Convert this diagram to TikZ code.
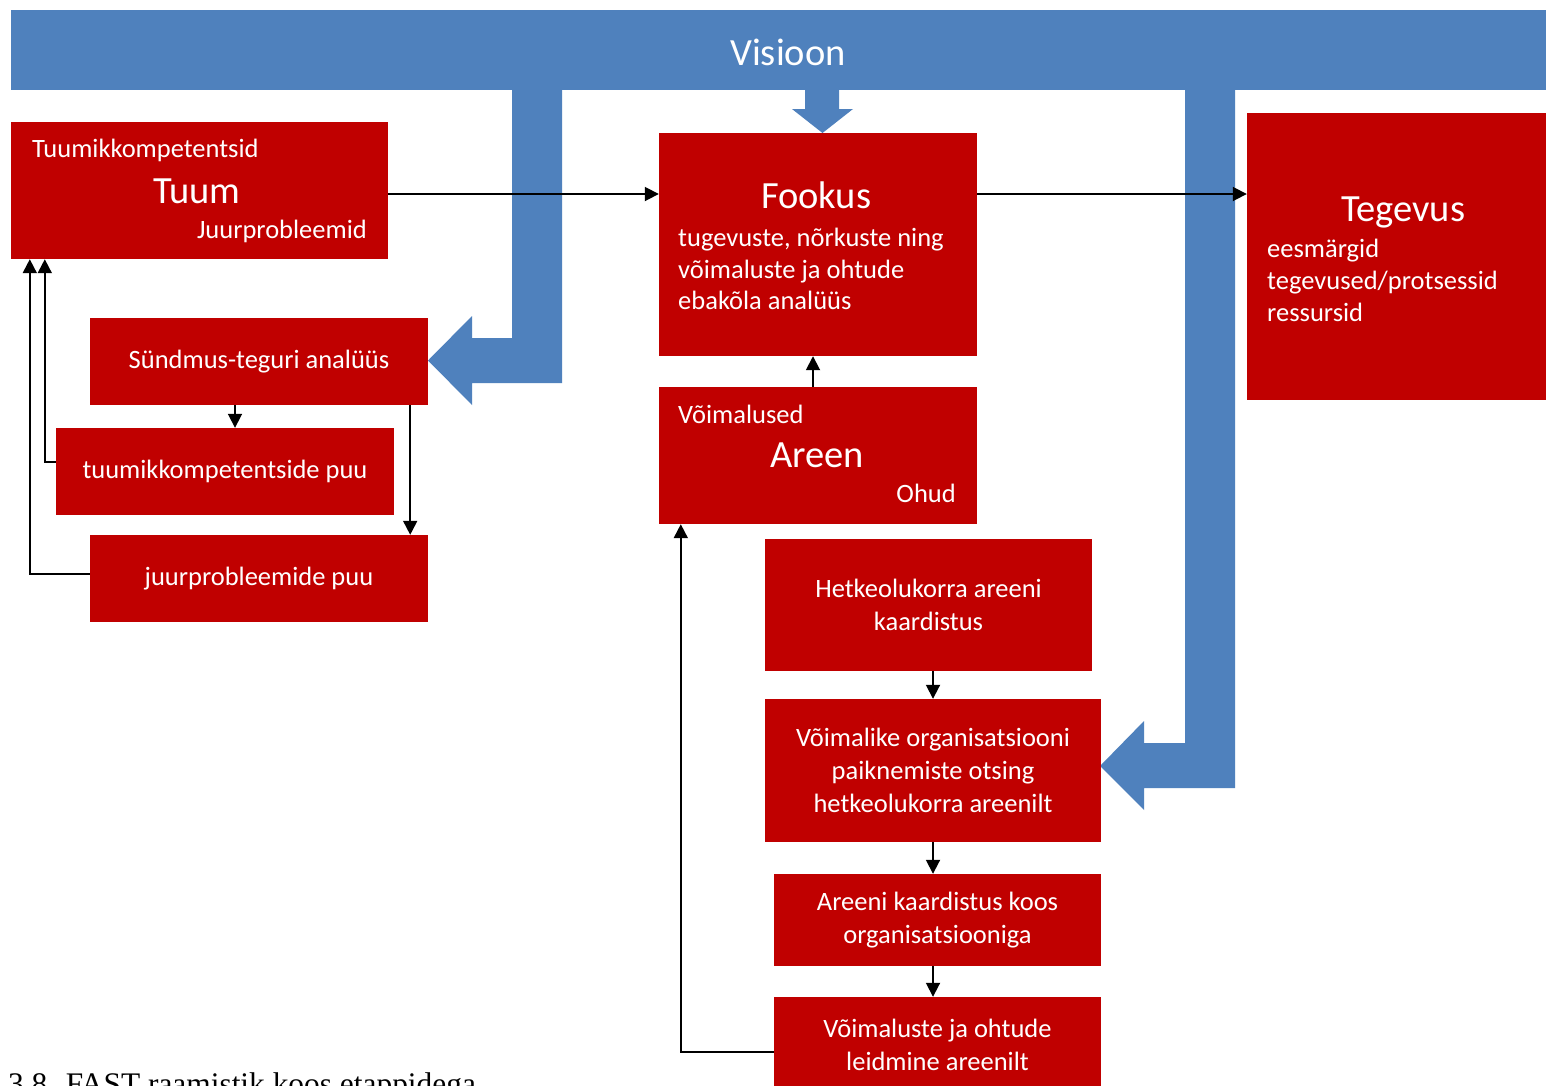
\documentclass[tikz,border=0pt]{standalone}
\usepackage{fontspec}
\setmainfont{Carlito}
\newfontfamily\capfont{Liberation Serif}
\usetikzlibrary{arrows.meta,calc}

\definecolor{boxred}{HTML}{C00000}
\definecolor{bandblue}{HTML}{4F81BD}

\tikzset{
  redbox/.style={fill=boxred, draw=none, inner sep=0pt, text=white,
                 align=center, font=\fontsize{26.5}{33}\selectfont},
  bodytxt/.style={text=white, inner sep=0pt, anchor=base west,
                  font=\fontsize{26.5}{33}\selectfont},
  titletxt/.style={text=white, inner sep=0pt, anchor=base west,
                   font=\fontsize{38.5}{46}\selectfont},
  conn/.style={draw=black, line width=1.8pt,
               -{Triangle[length=14pt,width=14pt]}},
  blockarrow/.style={fill=bandblue, draw=none}
}

\begin{document}
\begin{tikzpicture}[x=1pt,y=-1pt]
  \clip (0,0) rectangle (1546,1085);
  \fill[white] (0,0) rectangle (1546,1085);

  % vision band and its block arrows
  \fill[blockarrow] (11,10) rectangle (1546,90);
  \node[text=white, inner sep=0pt, font=\fontsize{38.5}{46}\selectfont]
    (visioon) at (788,52) {Visioon};
  \fill[blockarrow] (512,89) -- (562,89) -- (562,383) -- (472,383) -- (472,405)
    -- (428,360.5) -- (472,316) -- (472,338) -- (512,338) -- cycle;
  \fill[blockarrow] (805,89) -- (839,89) -- (839,109) -- (853,109)
    -- (822.5,133) -- (792,109) -- (805,109) -- cycle;
  \fill[blockarrow] (1185,89) -- (1235,89) -- (1235,788) -- (1144,788) -- (1144,810)
    -- (1100,766) -- (1144,721) -- (1144,743) -- (1185,743) -- cycle;

  % main boxes
  \node[redbox, minimum width=377pt, minimum height=137pt] (tuum) at (199.5,190.5) {};
  \node[bodytxt] (tuumkomp) at (32,157) {Tuumikkompetentsid};
  \node[titletxt] (tuumtitle) at (153,203) {Tuum};
  \node[bodytxt, anchor=base east] (juurprob) at (367,238) {Juurprobleemid};

  \node[redbox, minimum width=318pt, minimum height=223pt] (fookus) at (818,244.5) {};
  \node[titletxt] (fookustitle) at (761,208) {Fookus};
  \node[bodytxt] (fl1) at (678,246) {tugevuste, nõrkuste ning};
  \node[bodytxt] (fl2) at (678,278) {võimaluste ja ohtude};
  \node[bodytxt] (fl3) at (678,309) {ebakõla analüüs};

  \node[redbox, minimum width=299pt, minimum height=287pt] (tegevus) at (1396.5,256.5) {};
  \node[titletxt] (tegevustitle) at (1341,221) {Tegevus};
  \node[bodytxt] (tl1) at (1267,257) {eesmärgid};
  \node[bodytxt] (tl2) at (1267,289) {tegevused/protsessid};
  \node[bodytxt] (tl3) at (1267,321) {ressursid};

  \node[redbox, minimum width=318pt, minimum height=137pt] (areen) at (818,455.5) {};
  \node[bodytxt] (voimalused) at (678,423) {Võimalused};
  \node[titletxt] (areentitle) at (770,467) {Areen};
  \node[bodytxt, anchor=base east] (ohud) at (956,502) {Ohud};

  % core analysis boxes
  \node[redbox, minimum width=338pt, minimum height=87pt] (sundmus) at (259,361.5) {Sündmus-teguri analüüs};
  \node[redbox, minimum width=338pt, minimum height=87pt] (tuumikk) at (225,471.5) {tuumikkompetentside puu};
  \node[redbox, minimum width=338pt, minimum height=87pt] (juur) at (259,578.5) {juurprobleemide puu};

  % arena analysis boxes
  \node[redbox, minimum width=327pt, minimum height=132pt] (hetke) at (928.5,605) {Hetkeolukorra areeni\\kaardistus};
  \node[redbox, minimum width=336pt, minimum height=143pt] (voim) at (933,770.5) {Võimalike organisatsiooni\\paiknemiste otsing\\hetkeolukorra areenilt};
  \node[redbox, minimum width=327pt, minimum height=92pt] (kaard) at (937.5,920) {Areeni kaardistus koos\\organisatsiooniga};
  \node[redbox, minimum width=327pt, minimum height=96pt] (leid) at (937.5,1045) {Võimaluste ja ohtude\\leidmine areenilt};

  % connectors
  \draw[conn] ([yshift=-3.5pt]tuum.east) -- ([yshift=-3.5pt]tuum.east -| fookus.west);
  \draw[conn] ([yshift=-3.5pt]tuum.east -| fookus.east) -- ([yshift=-3.5pt]tuum.east -| tegevus.west);
  \draw[conn] ([xshift=-5pt]areen.north) -- ([xshift=-5pt]fookus.south);
  \draw[conn] ([xshift=10pt]tuumikk.north |- sundmus.south) -- ([xshift=10pt]tuumikk.north);
  \draw[conn] ([xshift=-18pt]sundmus.south east) -- ([xshift=-18pt]juur.north east);
  \draw[conn] ([yshift=9.5pt]tuumikk.west) -| ([xshift=34pt]tuum.south west);
  \draw[conn] ([yshift=4.5pt]juur.west) -| ([xshift=19pt]tuum.south west);
  \draw[conn] (voim.north |- hetke.south) -- (voim.north);
  \draw[conn] (voim.south) -- (voim.south |- kaard.north);
  \draw[conn] (voim.south |- kaard.south) -- (voim.south |- leid.north);
  \draw[conn] ([yshift=-7pt]leid.west) -| ([xshift=22pt]areen.south west);

  % caption line at the lower edge
  \node[inner sep=0pt, anchor=base west, font=\capfont\fontsize{31.4}{36}\selectfont]
    (caption) at (8,1094) {3.8. FAST raamistik koos etappidega};
\end{tikzpicture}
\end{document}
